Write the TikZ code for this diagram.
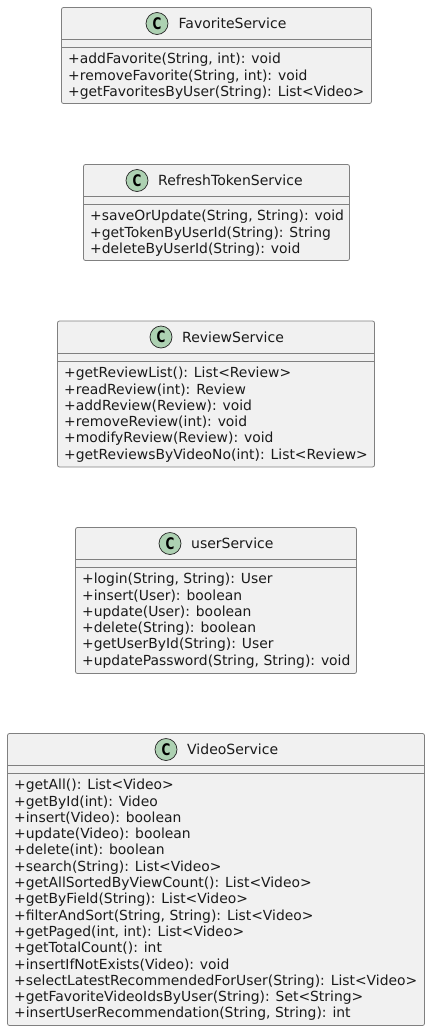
\documentclass[tikz,border=0pt]{standalone}
\usepackage{fontspec}
\setmainfont{DejaVu Sans}
\usepackage{xcolor,graphicx}
\definecolor{boxFill}{HTML}{F1F1F1}
\definecolor{boxLine}{HTML}{808080}
\definecolor{spotGreen}{HTML}{ADD1B2}
\definecolor{textDark}{HTML}{1A1A1A}
\newcommand{\spotletter}{\scalebox{0.75}[1]{C}}
\tikzset{
    classbox/.style={draw=boxLine, fill=boxFill, line width=0.8pt, rounded corners=2pt, inner sep=0pt, outer sep=0pt},
    classline/.style={draw=boxLine, line width=0.8pt},
    classspot/.style={circle, draw=black!85, fill=spotGreen, line width=0.7pt, minimum size=22pt, inner sep=0pt, font=\fontsize{16}{16}\selectfont\bfseries, text=black},
    classname/.style={anchor=base west, inner sep=0pt, text=textDark, font=\fontsize{14}{16}\selectfont},
    classbody/.style={anchor=north west, inner sep=0pt, align=left, text=textDark, font=\fontsize{13.9}{16.3}\selectfont},
}
\begin{document}
\begin{tikzpicture}[x=1pt, y=-1pt]
    \useasboundingbox (0,0) rectangle (430,1031);
    % FavoriteService
    \node[classbox, minimum width=310pt, minimum height=96pt] (favBox) at (216.5,55.5) {};
    \node[classspot] (favSpot) at (157,23.5) {\spotletter};
    \node[classname] (favName) at (178.5,28) {FavoriteService};
    \draw[classline] (favBox.west |- 0,39.5) -- (favBox.east |- 0,39.5);
    \draw[classline] (favBox.west |- 0,47.5) -- (favBox.east |- 0,47.5);
    \node[classbody] (favBody) at (68,53) {+addFavorite(String, int): void\\+removeFavorite(String, int): void\\+getFavoritesByUser(String): List<Video>};
    % RefreshTokenService
    \node[classbox, minimum width=266pt, minimum height=96pt] (tokenBox) at (216.5,212.5) {};
    \node[classspot] (tokenSpot) at (137,180.5) {\spotletter};
    \node[classname] (tokenName) at (158,185) {RefreshTokenService};
    \draw[classline] (tokenBox.west |- 0,196.5) -- (tokenBox.east |- 0,196.5);
    \draw[classline] (tokenBox.west |- 0,204.5) -- (tokenBox.east |- 0,204.5);
    \node[classbody] (tokenBody) at (90,210) {+saveOrUpdate(String, String): void\\+getTokenByUserId(String): String\\+deleteByUserId(String): void};
    % ReviewService
    \node[classbox, minimum width=317pt, minimum height=146pt] (reviewBox) at (216,394) {};
    \node[classspot] (reviewSpot) at (161,337) {\spotletter};
    \node[classname] (reviewName) at (182,342) {ReviewService};
    \draw[classline] (reviewBox.west |- 0,353) -- (reviewBox.east |- 0,353);
    \draw[classline] (reviewBox.west |- 0,361) -- (reviewBox.east |- 0,361);
    \node[classbody] (reviewBody) at (64,367) {+getReviewList(): List<Review>\\+readReview(int): Review\\+addReview(Review): void\\+removeReview(int): void\\+modifyReview(Review): void\\+getReviewsByVideoNo(int): List<Review>};
    % userService
    \node[classbox, minimum width=281pt, minimum height=146pt] (userBox) at (216,600.5) {};
    \node[classspot] (userSpot) at (170,543.5) {\spotletter};
    \node[classname] (userName) at (191,548) {userService};
    \draw[classline] (userBox.west |- 0,559.5) -- (userBox.east |- 0,559.5);
    \draw[classline] (userBox.west |- 0,567.5) -- (userBox.east |- 0,567.5);
    \node[classbody] (userBody) at (82,573) {+login(String, String): User\\+insert(User): boolean\\+update(User): boolean\\+delete(String): boolean\\+getUserById(String): User\\+updatePassword(String, String): void};
    % VideoService
    \node[classbox, minimum width=417pt, minimum height=292pt] (videoBox) at (216,879.5) {};
    \node[classspot] (videoSpot) at (166,749.5) {\spotletter};
    \node[classname] (videoName) at (187,754) {VideoService};
    \draw[classline] (videoBox.west |- 0,765.5) -- (videoBox.east |- 0,765.5);
    \draw[classline] (videoBox.west |- 0,773.5) -- (videoBox.east |- 0,773.5);
    \node[classbody] (videoBody) at (14,779) {+getAll(): List<Video>\\+getById(int): Video\\+insert(Video): boolean\\+update(Video): boolean\\+delete(int): boolean\\+search(String): List<Video>\\+getAllSortedByViewCount(): List<Video>\\+getByField(String): List<Video>\\+filterAndSort(String, String): List<Video>\\+getPaged(int, int): List<Video>\\+getTotalCount(): int\\+insertIfNotExists(Video): void\\+selectLatestRecommendedForUser(String): List<Video>\\+getFavoriteVideoIdsByUser(String): Set<String>\\+insertUserRecommendation(String, String): int};
\end{tikzpicture}
\end{document}
